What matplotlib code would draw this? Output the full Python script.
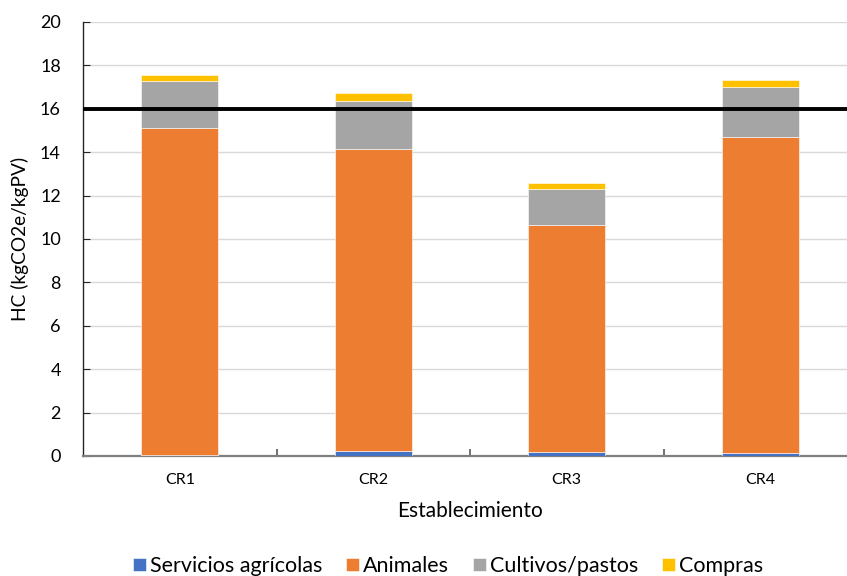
import matplotlib
matplotlib.use("Agg")
import matplotlib.pyplot as plt
import numpy as np

plt.rcParams["font.family"] = ["Lato", "DejaVu Sans"]

# --------------------------- data --------------------------------
establecimientos = ["CR1", "CR2", "CR3", "CR4"]
servicios = [0.05, 0.25, 0.18, 0.14]
animales = [15.06, 13.89, 10.45, 14.55]
cultivos = [2.19, 2.20, 1.66, 2.33]
compras = [0.28, 0.41, 0.27, 0.29]
umbral = 16.0
y_ticks = [0, 2, 4, 6, 8, 10, 12, 14, 16, 18, 20]

series = [
    ("Servicios agrícolas", servicios, "#4472C4"),
    ("Animales", animales, "#ED7D31"),
    ("Cultivos/pastos", cultivos, "#A5A5A5"),
    ("Compras", compras, "#FFC000"),
]

# --------------------------- plot --------------------------------
W, H = 847, 576
fig = plt.figure(figsize=(W / 100, H / 100), dpi=100)
ax = fig.add_axes([83 / W, 1 - 456 / H, 774 / W, 434 / H])

x = np.arange(len(establecimientos))
bottom = np.zeros(len(establecimientos))
handles = []
for name, vals, color in series:
    b = ax.bar(x, vals, width=0.4, bottom=bottom, color=color,
               edgecolor="white", linewidth=0.4, label=name, zorder=3)
    handles.append(b)
    bottom += np.array(vals)

ax.axhline(umbral, color="black", lw=2.8, zorder=4)

ax.set_xlim(-0.5, len(establecimientos) - 0.5)
ax.set_ylim(0, 20)
ax.set_yticks(y_ticks)
ax.set_xticks(x)
ax.set_xticklabels(establecimientos, fontsize=11.5)
ax.set_xticks(np.arange(len(establecimientos) - 1) + 0.5, minor=True)
ax.tick_params(axis="x", which="major", length=0, pad=12)
ax.tick_params(axis="x", which="minor", direction="in", length=5,
               color="#595959", width=1.2)
ax.tick_params(axis="y", direction="in", length=5, color="#262626",
               labelsize=13, pad=16)
ax.grid(axis="y", color="#D9D9D9", lw=1.0, zorder=0)

for side in ("top", "right"):
    ax.spines[side].set_visible(False)
ax.spines["left"].set_color("#262626")
ax.spines["left"].set_linewidth(1.0)
ax.spines["bottom"].set_color("#7F7F7F")
ax.spines["bottom"].set_linewidth(1.6)

ax.set_xlabel("Establecimiento", fontsize=15, labelpad=10)
ax.set_ylabel("HC (kgCO2e/kgPV)", fontsize=13.8, labelpad=8)

fig.legend(handles=handles, loc="center", ncol=4, frameon=False,
           bbox_to_anchor=(448 / W, 1 - 566 / H), fontsize=15.5,
           handlelength=0.6, handleheight=0.6, handletextpad=0.2,
           columnspacing=1.1)

fig.savefig("out.png", dpi=100)
